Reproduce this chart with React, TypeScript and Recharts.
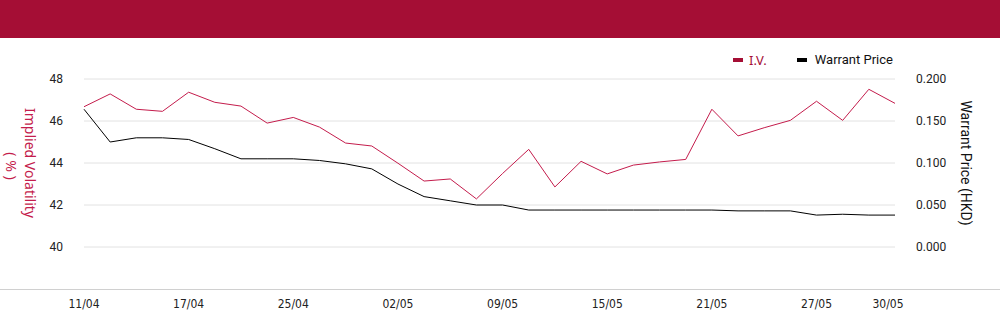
import React from "react";
import { LineChart, Line, XAxis, YAxis, CartesianGrid } from "recharts";

const dates = [
  "11/04", "14/04", "15/04", "16/04", "17/04", "22/04", "23/04", "24/04",
  "25/04", "28/04", "29/04", "30/04", "02/05", "06/05", "07/05", "08/05",
  "09/05", "12/05", "13/05", "14/05", "15/05", "16/05", "19/05", "20/05",
  "21/05", "22/05", "23/05", "26/05", "27/05", "28/05", "29/05", "30/05",
];
const ivValues = [
  46.68, 47.29, 46.56, 46.46, 47.37, 46.89, 46.71, 45.9,
  46.17, 45.71, 44.95, 44.81, 43.99, 43.14, 43.24, 42.29,
  43.5, 44.65, 42.86, 44.08, 43.48, 43.9, 44.05, 44.17,
  46.56, 45.29, 45.68, 46.03, 46.94, 46.03, 47.51, 46.84,
];
const priceValues = [
  0.164, 0.125, 0.13, 0.13, 0.128, 0.117, 0.105, 0.105,
  0.105, 0.103, 0.099, 0.093, 0.075, 0.06, 0.055, 0.05,
  0.05, 0.044, 0.044, 0.044, 0.044, 0.044, 0.044, 0.044,
  0.044, 0.043, 0.043, 0.043, 0.038, 0.039, 0.038, 0.038,
];
const xTicks = ["11/04", "17/04", "25/04", "02/05", "09/05", "15/05", "21/05", "27/05", "30/05"];
const ivTicks = [40, 42, 44, 46, 48];
const priceTicks = [0, 0.05, 0.1, 0.15, 0.2];

const data = dates.map((d, i) => ({ date: d, iv: ivValues[i], price: priceValues[i] }));

const RED = "#a50e35";
const LINE_RED = "#c41c4c";
const FONT = "Roboto, 'Liberation Sans', sans-serif";

const XTick = (props: any) => {
  const { x, y, payload } = props;
  const isLast = payload.value === xTicks[xTicks.length - 1];
  return (
    <text
      x={x}
      y={y}
      dy={9}
      dx={isLast ? -7 : 0}
      textAnchor="middle"
      fill="#222"
      fontSize={12}
      fontFamily="'DejaVu Sans Condensed', 'DejaVu Sans', sans-serif"
      style={{ fontStretch: "condensed" }}
    >
      {payload.value}
    </text>
  );
};

const LeftLabel = (props: any) => {
  const { viewBox } = props;
  const cy = viewBox.y + viewBox.height / 2;
  return (
    <g>
      <text
        transform={`translate(${30},${cy}) rotate(90)`}
        textAnchor="middle"
        dominantBaseline="central"
        fill={LINE_RED}
        fontSize={14}
        fontFamily="'Noto Sans', sans-serif"
      >
        Implied Volatility
      </text>
      <text
        transform={`translate(${11},${cy + 3}) rotate(90)`}
        textAnchor="middle"
        dominantBaseline="central"
        fill={LINE_RED}
        fontSize={14}
        fontFamily="'Noto Sans', sans-serif"
      >
        ( % )
      </text>
    </g>
  );
};

const RightLabel = (props: any) => {
  const { viewBox } = props;
  const cy = viewBox.y + viewBox.height / 2;
  return (
    <text
      transform={`translate(${966},${cy}) rotate(90)`}
      textAnchor="middle"
      dominantBaseline="central"
      fill="#111"
      fontSize={14}
      fontFamily={FONT}
    >
      Warrant Price (HKD)
    </text>
  );
};

export default function App() {
  return (
    <div style={{ position: "absolute", left: 0, top: 0, width: 1000, height: 324, background: "#fff", overflow: "hidden" }}>
      <div style={{ position: "absolute", left: 0, top: 0, width: 1000, height: 38, background: RED }} />
      <div style={{ position: "absolute", left: 0, top: 289, width: 1000, height: 1, background: "#d0d0d0" }} />
      <div
        style={{
          position: "absolute",
          left: 733,
          top: 51,
          display: "flex",
          alignItems: "center",
          fontSize: 13,
          fontFamily: FONT,
          lineHeight: "18px",
        }}
      >
        <span style={{ display: "inline-block", width: 10, height: 4, background: RED, marginRight: 6 }} />
        <span style={{ color: RED, fontFamily: "'Noto Sans', sans-serif", marginRight: 30 }}>I.V.</span>
        <span style={{ display: "inline-block", width: 10, height: 4, background: "#000", marginRight: 8 }} />
        <span style={{ color: "#111" }}>Warrant Price</span>
      </div>
      <div style={{ position: "absolute", left: 0, top: 0 }}>
        <LineChart
          width={1000}
          height={324}
          data={data}
          margin={{ top: 79, right: 0, bottom: 0, left: 0 }}
        >
          <CartesianGrid vertical={false} stroke="#e2e2e2" yAxisId="left" />
          <XAxis
            dataKey="date"
            scale="point"
            padding={{ left: 0, right: 0 }}
            ticks={xTicks}
            interval={0}
            tick={<XTick />}
            tickLine={false}
            axisLine={false}
            tickSize={0}
            tickMargin={52}
            height={77}
          />
          <YAxis
            yAxisId="left"
            orientation="left"
            domain={[40, 48]}
            ticks={ivTicks}
            width={84}
            tickSize={0}
            tickMargin={21}
            tickLine={false}
            axisLine={false}
            tick={{ fill: "#222", fontSize: 12, fontFamily: FONT }}
            label={<LeftLabel />}
          />
          <YAxis
            yAxisId="right"
            orientation="right"
            domain={[0, 0.2]}
            ticks={priceTicks}
            tickFormatter={(v: number) => v.toFixed(3)}
            width={105}
            tickSize={0}
            tickMargin={21}
            tickLine={false}
            axisLine={false}
            tick={{ fill: "#222", fontSize: 12, fontFamily: FONT }}
            label={<RightLabel />}
          />
          <Line
            yAxisId="left"
            type="linear"
            dataKey="iv"
            name="I.V."
            stroke={LINE_RED}
            strokeWidth={1}
            dot={false}
            isAnimationActive={false}
          />
          <Line
            yAxisId="right"
            type="linear"
            dataKey="price"
            name="Warrant Price"
            stroke="#000"
            strokeWidth={1}
            dot={false}
            isAnimationActive={false}
          />
        </LineChart>
      </div>
    </div>
  );
}
